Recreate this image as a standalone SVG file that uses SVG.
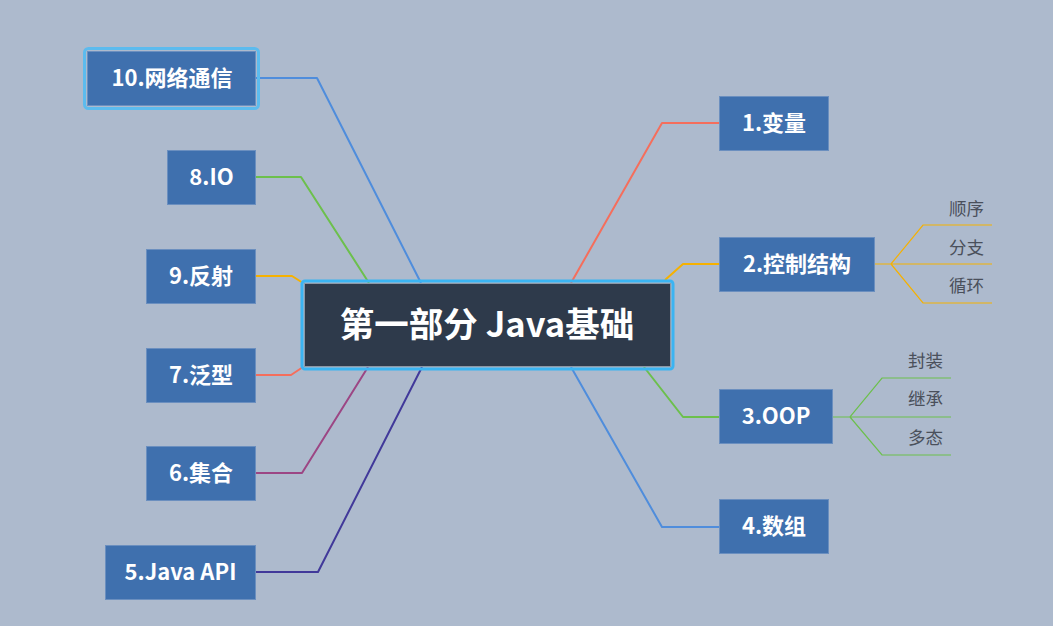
<svg xmlns="http://www.w3.org/2000/svg" width="1053" height="626" viewBox="0 0 1053 626">
<style>
.node rect.box{fill:#3f70ae;stroke:#6b8fbf;stroke-width:1}
.lbl{font-family:"Noto Sans CJK SC","Noto Sans",sans-serif;font-weight:bold;font-size:22px;fill:#ffffff;text-anchor:middle}
.sub{font-family:"Noto Sans CJK SC","Noto Sans",sans-serif;font-size:17.5px;fill:#4a505b;text-anchor:end}
.c{fill:none;stroke-width:2;stroke-linejoin:round}
.s{fill:none;stroke-width:1.2}
</style>
<rect width="1053" height="626" fill="#adbacd"/>
<g id="connectors">
  <path class="c" stroke="#4f8ddc" d="M256,78 H317 L421,283"/>
  <path class="c" stroke="#6cc04c" d="M256,177 H301 L369,283"/>
  <path class="c" stroke="#f6b100" d="M256,276 H292 L303,283"/>
  <path class="c" stroke="#f56e5c" d="M256,375 H291 L303,367"/>
  <path class="c" stroke="#9c4684" d="M256,473 H302 L368,367"/>
  <path class="c" stroke="#41399a" d="M256,572 H318 L422,367"/>
  <path class="c" stroke="#f56e5c" d="M719,123 H662 L571,283"/>
  <path class="c" stroke="#f6b100" d="M719,264 H683 L665,280"/>
  <path class="c" stroke="#6cc04c" d="M719,417 H683 L644,367"/>
  <path class="c" stroke="#4f8ddc" d="M719,527 H662 L571,367"/>
  <path class="s" stroke="#f6b100" d="M875,264 H891 L923,225 H992 M891,264 H992 M891,264 L923,303 H992"/>
  <path class="s" stroke="#6cc04c" d="M833,417 H850 L882,378 H951 M850,417 H951 M850,417 L882,455 H951"/>
</g>
<g id="center">
  <rect x="302" y="281" width="371" height="88" rx="3" fill="none" stroke="#3bb4f2" stroke-width="3"/>
  <rect x="304.5" y="283.5" width="366" height="83" fill="#2e3a4b" stroke="#8e98a6" stroke-width="1"/>
  <text x="487" y="337" font-family="'Noto Sans CJK SC','Noto Sans',sans-serif" font-weight="bold" font-size="34.5" fill="#ffffff" text-anchor="middle">第一部分 Java基础</text>
</g>
<g id="n10" class="node">
  <rect x="84.5" y="48.5" width="174" height="60" rx="4" fill="none" stroke="#5cbbee" stroke-width="3"/>
  <rect class="box" x="87.5" y="51.5" width="168" height="54"/>
  <text class="lbl" x="172" y="86">10.网络通信</text>
</g>
<g id="n8" class="node">
  <rect class="box" x="167.5" y="150.5" width="88" height="54"/>
  <text class="lbl" x="211.5" y="185">8.IO</text>
</g>
<g id="n9" class="node">
  <rect class="box" x="146.5" y="249.5" width="109" height="54"/>
  <text class="lbl" x="201" y="284">9.反射</text>
</g>
<g id="n7" class="node">
  <rect class="box" x="146.5" y="348.5" width="109" height="54"/>
  <text class="lbl" x="201" y="383">7.泛型</text>
</g>
<g id="n6" class="node">
  <rect class="box" x="146.5" y="446.5" width="109" height="54"/>
  <text class="lbl" x="201" y="481">6.集合</text>
</g>
<g id="n5" class="node">
  <rect class="box" x="105.5" y="545.5" width="150" height="54"/>
  <text class="lbl" x="180.5" y="580">5.Java API</text>
</g>
<g id="n1" class="node">
  <rect class="box" x="719.5" y="96.5" width="109" height="54"/>
  <text class="lbl" x="774" y="131">1.变量</text>
</g>
<g id="n2" class="node">
  <rect class="box" x="719.5" y="237.5" width="155" height="54"/>
  <text class="lbl" x="797" y="272">2.控制结构</text>
</g>
<g id="n2a"><text class="sub" x="984" y="215">顺序</text></g>
<g id="n2b"><text class="sub" x="984" y="254">分支</text></g>
<g id="n2c"><text class="sub" x="984" y="292">循环</text></g>
<g id="n3" class="node">
  <rect class="box" x="719.5" y="389.5" width="113" height="54"/>
  <text class="lbl" x="776" y="424">3.OOP</text>
</g>
<g id="n3a"><text class="sub" x="943" y="367">封装</text></g>
<g id="n3b"><text class="sub" x="943" y="405">继承</text></g>
<g id="n3c"><text class="sub" x="943" y="444">多态</text></g>
<g id="n4" class="node">
  <rect class="box" x="719.5" y="499.5" width="109" height="54"/>
  <text class="lbl" x="774" y="534">4.数组</text>
</g>
</svg>
